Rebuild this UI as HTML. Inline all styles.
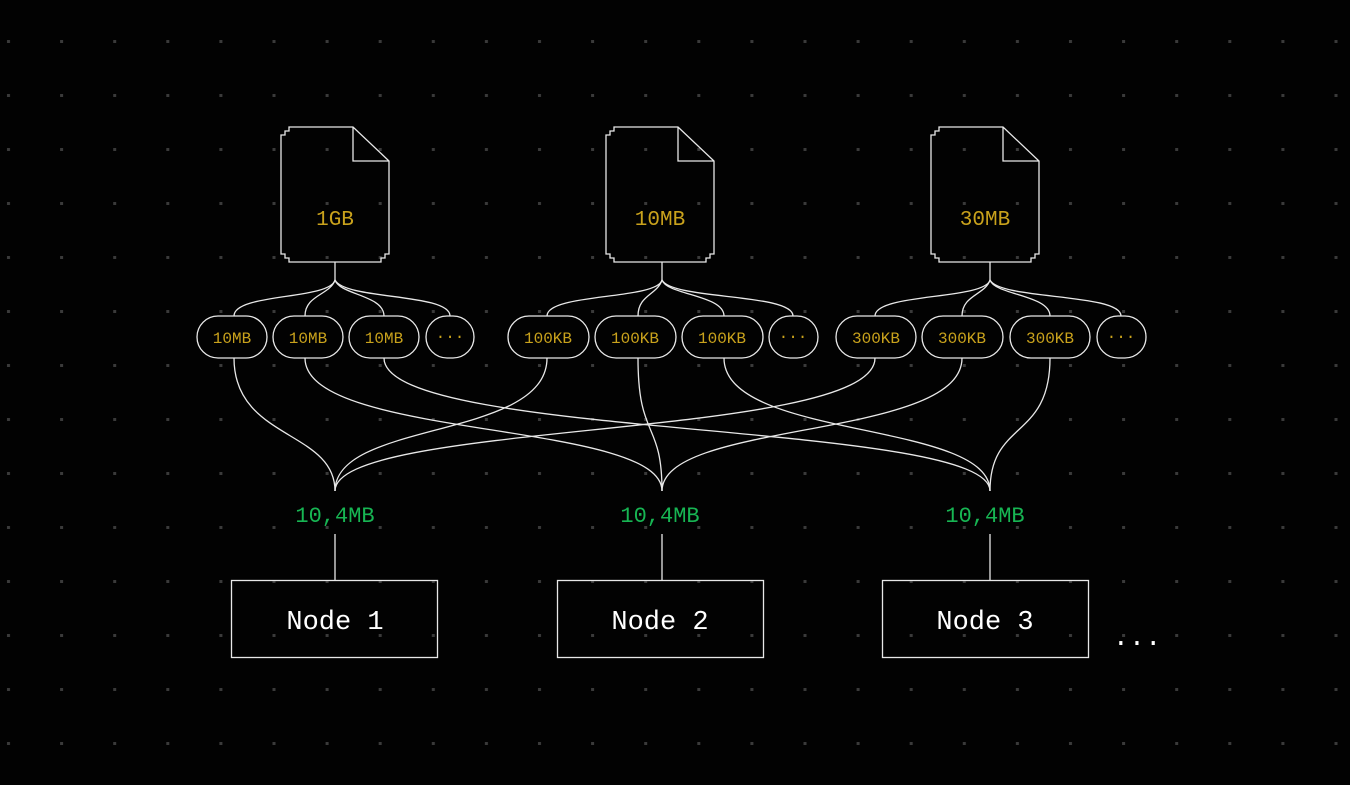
<!DOCTYPE html>
<html><head><meta charset="utf-8"><style>
html,body{margin:0;padding:0;background:#020202;}
svg{display:block;}
text{font-family:"Liberation Mono","DejaVu Sans Mono",monospace;}
</style></head><body>
<svg width="1350" height="785" viewBox="0 0 1350 785" xmlns="http://www.w3.org/2000/svg">
<rect width="1350" height="785" fill="#020202"/>
<defs>
<pattern id="dots" x="0" y="0" width="53.1" height="54" patternUnits="userSpaceOnUse">
<rect x="7" y="40" width="3" height="3" fill="#3a3a3a"/>
</pattern>
</defs>
<rect width="1350" height="785" fill="url(#dots)"/>
<g fill="none" stroke="#e8e8e8" stroke-width="1.3">
<!-- files -->
<g id="f1"><path d="M289,127 H353 L389,161 V254 H385 V258 H381 V262 H289 V258 H285 V254 H281 V135 H285 V131 H289 Z M353,127 V161 H389"/></g>
<path transform="translate(325,0)" d="M289,127 H353 L389,161 V254 H385 V258 H381 V262 H289 V258 H285 V254 H281 V135 H285 V131 H289 Z M353,127 V161 H389"/>
<path transform="translate(650,0)" d="M289,127 H353 L389,161 V254 H385 V258 H381 V262 H289 V258 H285 V254 H281 V135 H285 V131 H289 Z M353,127 V161 H389"/>
<!-- stems and branches -->
<path d="M335,262 V280"/>
<path d="M335,280 C330,300 234,293 234,316"/>
<path d="M335,280 C330,295 305,295 305,316"/>
<path d="M335,280 C340,295 384,295 384,316"/>
<path d="M335,280 C345,300 450,293 450,316"/>
<path d="M662,262 V280"/>
<path d="M662,280 C657,300 547,293 547,316"/>
<path d="M662,280 C657,295 638,295 638,316"/>
<path d="M662,280 C667,295 724,295 724,316"/>
<path d="M662,280 C672,300 793,293 793,316"/>
<path d="M990,262 V280"/>
<path d="M990,280 C985,300 875,293 875,316"/>
<path d="M990,280 C985,295 962,295 962,316"/>
<path d="M990,280 C995,295 1050,295 1050,316"/>
<path d="M990,280 C1000,300 1121,293 1121,316"/>
<!-- pills -->
<rect x="197" y="316" width="70" height="42" rx="21"/>
<rect x="273" y="316" width="70" height="42" rx="21"/>
<rect x="349" y="316" width="70" height="42" rx="21"/>
<rect x="426" y="316" width="48" height="42" rx="21"/>
<rect x="508" y="316" width="81" height="42" rx="21"/>
<rect x="595" y="316" width="81" height="42" rx="21"/>
<rect x="682" y="316" width="81" height="42" rx="21"/>
<rect x="769" y="316" width="49" height="42" rx="21"/>
<rect x="836" y="316" width="80" height="42" rx="21"/>
<rect x="922" y="316" width="81" height="42" rx="21"/>
<rect x="1010" y="316" width="80" height="42" rx="21"/>
<rect x="1097" y="316" width="49" height="42" rx="21"/>
<!-- cross connections -->
<path d="M234,358 C234,440 335,430 335,491"/>
<path d="M547,358 C547,440 335,420 335,491"/>
<path d="M875,358 C875,440 335,420 335,491"/>
<path d="M305,358 C305,440 662,420 662,491"/>
<path d="M638,358 C638,440 662,420 662,491"/>
<path d="M962,358 C962,440 662,420 662,491"/>
<path d="M384,358 C384,440 990,420 990,491"/>
<path d="M724,358 C724,440 990,420 990,491"/>
<path d="M1050,358 C1050,440 990,420 990,491"/>
<!-- node connectors -->
<path d="M335,534 V580 M662,534 V580 M990,534 V580"/>
<rect x="231.5" y="580.5" width="206" height="77"/>
<rect x="557.5" y="580.5" width="206" height="77"/>
<rect x="882.5" y="580.5" width="206" height="77"/>
</g>
<g fill="#c9a21c" font-size="21" text-anchor="middle">
<text x="335" y="225">1GB</text>
<text x="660" y="225">10MB</text>
<text x="985" y="225">30MB</text>
</g>
<g fill="#c9a21c" font-size="16" text-anchor="middle">
<text x="232" y="343">10MB</text>
<text x="308" y="343">10MB</text>
<text x="384" y="343">10MB</text>
<text x="450" y="341">···</text>
<text x="548" y="343">100KB</text>
<text x="635" y="343">100KB</text>
<text x="722" y="343">100KB</text>
<text x="793" y="341">···</text>
<text x="876" y="343">300KB</text>
<text x="962" y="343">300KB</text>
<text x="1050" y="343">300KB</text>
<text x="1121" y="341">···</text>
</g>
<g fill="#17b553" font-size="22" text-anchor="middle">
<text x="335" y="522">10,4MB</text>
<text x="660" y="522">10,4MB</text>
<text x="985" y="522">10,4MB</text>
</g>
<g fill="#ffffff" font-size="27" text-anchor="middle">
<text x="335" y="629">Node 1</text>
<text x="660" y="629">Node 2</text>
<text x="985" y="629">Node 3</text>
<text x="1137" y="645">...</text>
</g>
</svg>
</body></html>
